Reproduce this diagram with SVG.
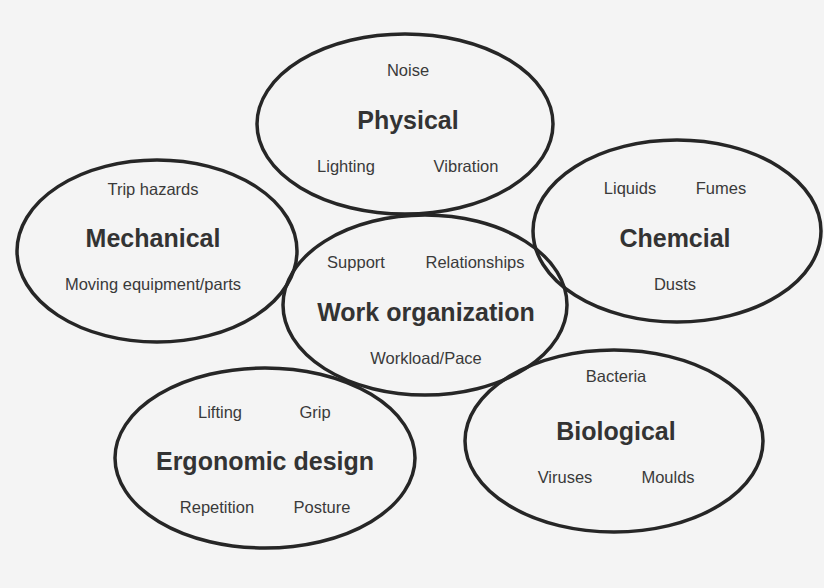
<svg xmlns="http://www.w3.org/2000/svg" width="824" height="588" viewBox="0 0 824 588">
<style>
.ring{fill:none;stroke:#262626;stroke-width:3.5}
.t{font-family:"Liberation Sans",Arial,sans-serif;font-size:16.5px;fill:#3a3a3a;text-anchor:middle}
.h{font-family:"Liberation Sans",Arial,sans-serif;font-size:25px;font-weight:bold;fill:#333;text-anchor:middle}
</style>
<rect width="824" height="588" fill="#f4f4f4"/>
<g id="physical">
<ellipse class="ring" cx="405" cy="124" rx="148" ry="90"/>
<text class="t" x="408" y="76">Noise</text>
<text class="h" x="408" y="129">Physical</text>
<text class="t" x="346" y="172">Lighting</text>
<text class="t" x="466" y="172">Vibration</text>
</g>
<g id="mechanical">
<ellipse class="ring" cx="157" cy="251" rx="140" ry="91"/>
<text class="t" x="153" y="195">Trip hazards</text>
<text class="h" x="153" y="247">Mechanical</text>
<text class="t" x="153" y="290">Moving equipment/parts</text>
</g>
<g id="chemical">
<ellipse class="ring" cx="677" cy="231" rx="144" ry="91"/>
<text class="t" x="630" y="194">Liquids</text>
<text class="t" x="721" y="194">Fumes</text>
<text class="h" x="675" y="247">Chemcial</text>
<text class="t" x="675" y="290">Dusts</text>
</g>
<g id="work-organization">
<ellipse class="ring" cx="425" cy="305" rx="142" ry="90"/>
<text class="t" x="356" y="268">Support</text>
<text class="t" x="475" y="268">Relationships</text>
<text class="h" x="426" y="321">Work organization</text>
<text class="t" x="426" y="364">Workload/Pace</text>
</g>
<g id="ergonomic-design">
<ellipse class="ring" cx="265" cy="458" rx="150" ry="90"/>
<text class="t" x="220" y="418">Lifting</text>
<text class="t" x="315" y="418">Grip</text>
<text class="h" x="265" y="470">Ergonomic design</text>
<text class="t" x="217" y="513">Repetition</text>
<text class="t" x="322" y="513">Posture</text>
</g>
<g id="biological">
<ellipse class="ring" cx="614" cy="441" rx="149" ry="91"/>
<text class="t" x="616" y="382">Bacteria</text>
<text class="h" x="616" y="440">Biological</text>
<text class="t" x="565" y="483">Viruses</text>
<text class="t" x="668" y="483">Moulds</text>
</g>
<g id="connectors"></g>
</svg>
